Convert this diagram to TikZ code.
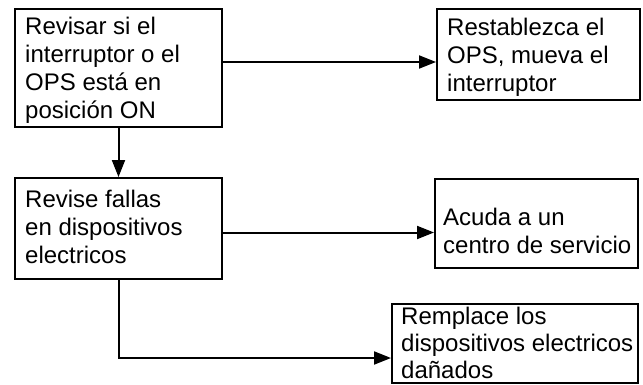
\documentclass[tikz,border=0pt]{standalone}
\usepackage{fontspec}
\setmainfont{Liberation Sans}
\usetikzlibrary{arrows.meta, positioning}

\begin{document}
\begin{tikzpicture}[
            x=1pt, y=-1pt,
            box/.style={draw, line width=2pt, anchor=north west, inner sep=0pt},
            txt/.style={anchor=north west, inner sep=0pt, align=left,
                        font=\fontsize{24}{28}\selectfont},
            arr/.style={-{Triangle[length=17pt, width=13pt]}, line width=2pt}]

            \useasboundingbox (0,0) rectangle (643,384);

            %% ── Boxes ─────────────────────────────────────────────────────
            \node[box, minimum width=207pt, minimum height=118pt]
                  at (14,8)                          (check)   {};
            \node[box, minimum width=203pt, minimum height=91pt,
                  right=213pt of check.north east, anchor=north west]
                                                     (reset)   {};
            \node[box, minimum width=207pt, minimum height=101pt,
                  below=49pt of check.south west, anchor=north west]
                                                     (faults)  {};
            \node[box, minimum width=203pt, minimum height=89pt]
                  at (434,178)                       (service) {};
            \node[box, minimum width=246pt, minimum height=79pt]
                  at (391,303)                       (replace) {};

            %% ── Texts ─────────────────────────────────────────────────────
            \node[txt] at ([shift={(11,9)}]check.north west)    (checktxt)
                {Revisar si el\\interruptor o el\\OPS está en\\posición ON};
            \node[txt] at ([shift={(11,10)}]reset.north west)   (resettxt)
                {Restablezca el\\OPS, mueva el\\interruptor};
            \node[txt] at ([shift={(11,13)}]faults.north west)  (faultstxt)
                {Revise fallas\\en dispositivos\\electricos};
            \node[txt] at ([shift={(9,30)}]service.north west)  (servicetxt)
                {Acuda a un\\centro de servicio};
            \node[txt, font=\fontsize{24}{27}\selectfont]
                  at ([shift={(10,4)}]replace.north west)       (replacetxt)
                {Remplace los\\dispositivos electricos\\dañados};

            %% ── Connectors ────────────────────────────────────────────────
            \coordinate (turn) at (faults.south |- 0,358);

            \draw[arr] ([yshift=6pt]check.east) --
                ([yshift=6pt]check.east -| reset.west);
            \draw[arr] (check.south) -- (faults.north);
            \draw[arr] ([yshift=-4pt]faults.east) --
                ([yshift=-4pt]faults.east -| service.west);
            \draw[arr] (faults.south) -- (turn) -- (turn -| replace.west);

        \end{tikzpicture}
\end{document}
